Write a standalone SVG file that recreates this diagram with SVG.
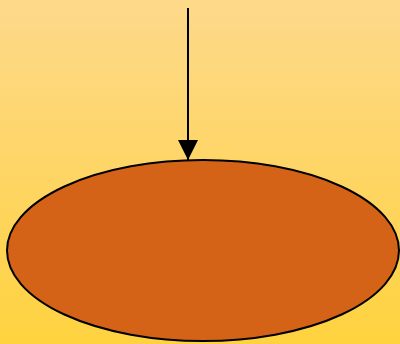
<svg xmlns="http://www.w3.org/2000/svg" width="400" height="344" viewBox="0 0 400 344">
<defs>
<linearGradient id="bg" x1="0" y1="0" x2="0" y2="1">
<stop offset="0" stop-color="#fdd98b"/>
<stop offset="1" stop-color="#ffd23f"/>
</linearGradient>
<marker id="ah" markerWidth="20" markerHeight="20" viewBox="0 0 20 20" refX="20" refY="10" orient="auto" markerUnits="userSpaceOnUse">
<path d="M0,0 L20,10 L0,20 Z" fill="#000"/>
</marker>
<style>
.node{fill:#d46317;stroke:#000;stroke-width:2}
.edge{stroke:#000;stroke-width:2;fill:none}
</style>
</defs>
<rect width="400" height="344" fill="url(#bg)"/>
<g id="connectors">
<line class="edge" x1="188" y1="8" x2="188" y2="160" marker-end="url(#ah)"/>
</g>
<g id="node1">
<ellipse class="node" cx="203" cy="250.5" rx="196" ry="90.5"/>
</g>
</svg>
